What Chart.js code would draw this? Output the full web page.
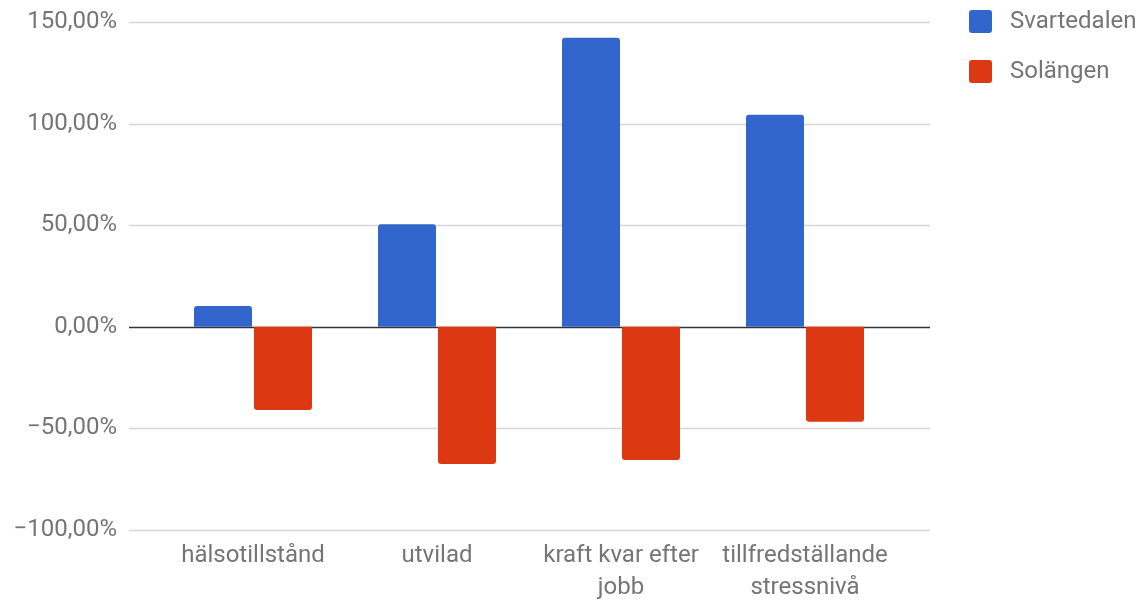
<!DOCTYPE html>
<html>
<head>
<meta charset="utf-8">
<script src="https://cdn.jsdelivr.net/npm/chart.js@4"></script>
<style>
  html, body { margin: 0; padding: 0; background: #fff; }
  #wrap { width: 1140px; height: 600px; }
</style>
</head>
<body>
<div id="wrap"><canvas id="c" width="1140" height="600"></canvas></div>
<script>
const categories = ["hälsotillstånd", "utvilad", ["kraft kvar efter", "jobb"], ["tillfredställande", "stressnivå"]];
const seriesNames = ["Svartedalen", "Solängen"];
const svartedalen = [10.2, 50.5, 142.2, 104.4];
const solangen = [-41.0, -67.5, -65.5, -46.7];
const seriesColors = ["#3366cc", "#dc3912"];
const yTicks = [-100, -50, 0, 50, 100, 150];

const FONT = "Roboto, 'Noto Sans', sans-serif";
const TEXT = "#757575";

const fmt = v => (v < 0 ? "\u2212" : "") + Math.abs(v) + ",00%";

const gridPlugin = {
  id: "extGrid",
  beforeDatasetsDraw(chart) {
    const y = chart.scales.y, ctx = chart.ctx;
    const x0 = 129, x1 = 930;
    ctx.save();
    yTicks.forEach(v => {
      const py = Math.round(y.getPixelForValue(v)) + 0.5;
      ctx.beginPath();
      if (v === 0) { ctx.strokeStyle = "#333333"; ctx.lineWidth = 1.5; }
      else { ctx.strokeStyle = "#d6d6d6"; ctx.lineWidth = 1.5; }
      ctx.moveTo(x0, py); ctx.lineTo(x1, py); ctx.stroke();
    });
    ctx.restore();
  }
};

const legendPlugin = {
  id: "customLegend",
  afterDraw(chart) {
    const ctx = chart.ctx;
    ctx.save();
    chart.data.datasets.forEach((ds, i) => {
      const bx = 969, by = 10 + i * 50, s = 23;
      ctx.fillStyle = ds.backgroundColor;
      ctx.beginPath();
      ctx.roundRect(bx, by, s, s, 3);
      ctx.fill();
      ctx.fillStyle = TEXT;
      ctx.font = "24px " + FONT;
      ctx.textBaseline = "middle";
      ctx.textAlign = "left";
      ctx.fillText(ds.label, 1010, by + s / 2);
    });
    ctx.restore();
  }
};

new Chart(document.getElementById("c"), {
  type: "bar",
  data: {
    labels: categories,
    datasets: [
      { label: seriesNames[0], data: svartedalen, backgroundColor: seriesColors[0], borderRadius: 3, categoryPercentage: 0.652, barPercentage: 0.967 },
      { label: seriesNames[1], data: solangen, backgroundColor: seriesColors[1], borderRadius: 3, categoryPercentage: 0.652, barPercentage: 0.967 }
    ]
  },
  options: {
    responsive: false,
    animation: false,
    layout: { padding: { left: 0, right: 243, top: 22, bottom: 0 } },
    plugins: { legend: { display: false }, tooltip: { enabled: false } },
    scales: {
      x: {
        grid: { display: false, drawTicks: false },
        border: { display: false },
        ticks: { color: TEXT, font: { family: FONT, size: 24, lineHeight: 1.33 }, padding: 10, maxRotation: 0, autoSkip: false },
        afterFit(scale) { scale.height = 70; }
      },
      y: {
        min: -100, max: 150,
        grid: { display: false, drawTicks: false },
        border: { display: false },
        afterBuildTicks(scale) { scale.ticks = yTicks.map(v => ({ value: v })); },
        ticks: { color: TEXT, font: { family: FONT, size: 24 }, padding: 44, callback: v => fmt(v) },
        afterFit(scale) { scale.width = 161; scale.paddingTop = 0; scale.paddingBottom = 0; }
      }
    }
  },
  plugins: [gridPlugin, legendPlugin]
});
</script>
</body>
</html>
